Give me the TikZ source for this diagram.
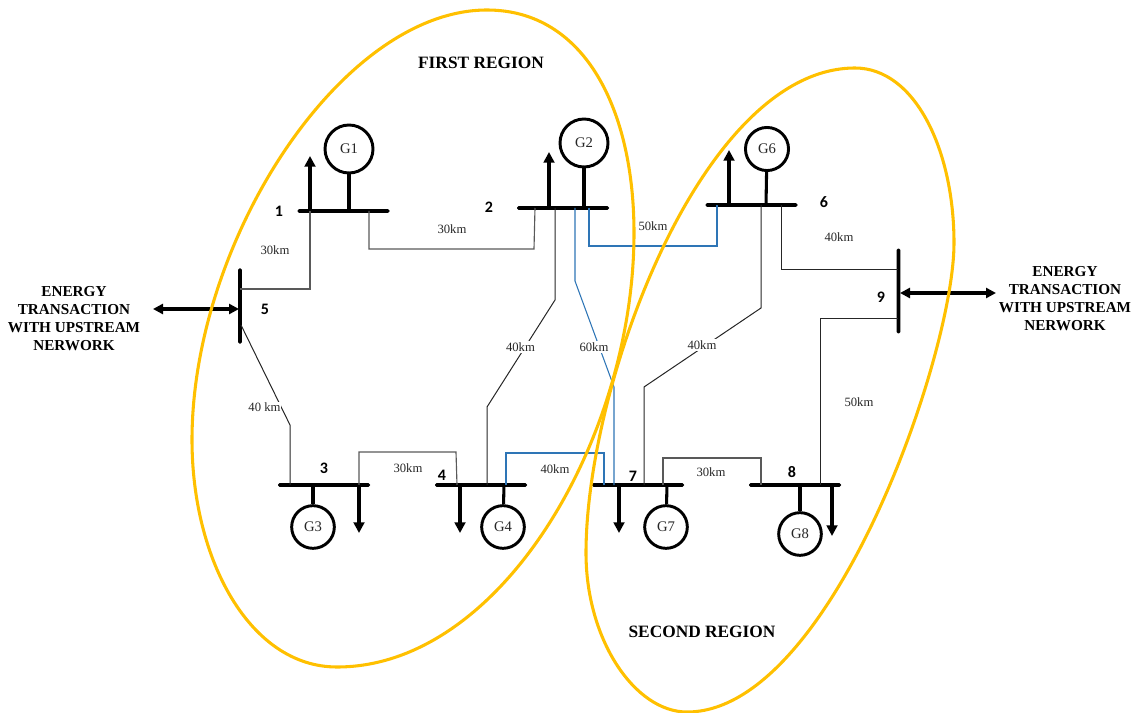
\documentclass[tikz,border=0pt]{standalone}
\usepackage{fontspec}
\setmainfont{Liberation Serif}
\newfontfamily\numfont{Carlito}
\usetikzlibrary{arrows.meta}
\definecolor{regionc}{HTML}{FFC000}
\definecolor{linkb}{HTML}{2E75B6}
\tikzset{
  x=0.75pt,y=-0.75pt,
  hbus/.style={fill=black,inner sep=0pt,minimum height=2.7pt,minimum width=69pt,rectangle,rounded corners=1pt},
  vbus/.style={fill=black,inner sep=0pt,minimum width=2.7pt,rectangle,rounded corners=1pt},
  gen/.style={circle,draw=black,line width=2.2pt,fill=white,inner sep=0pt,font=\fontsize{11}{12}\selectfont,text=black!85},
  stem/.style={line width=2.3pt},
  load/.style={line width=2.3pt,-{Triangle[length=8pt,width=8pt]}},
  trade/.style={line width=2.4pt,{Triangle[length=7.5pt,width=7.5pt]}-{Triangle[length=7.5pt,width=7.5pt]}},
  linkk/.style={line width=0.75pt,black!85},
  linkg/.style={line width=0.85pt,black!65},
  linkbl/.style={line width=0.8pt,linkb},
  region/.style={draw=regionc,line width=2.3pt},
  dist/.style={font=\fontsize{9.5}{11}\selectfont,text=black!85,inner sep=1.5pt},
  distw/.style={dist,fill=white},
  busno/.style={font=\numfont\bfseries\fontsize{12}{12}\selectfont,inner sep=0pt},
  title/.style={font=\bfseries\fontsize{13}{15}\selectfont,inner sep=0pt},
  trans/.style={font=\bfseries\fontsize{11.4}{13.5}\selectfont,align=center,inner sep=0pt}
}
\begin{document}
\begin{tikzpicture}
\useasboundingbox (0,0) rectangle (1132,713);
% buses
\node[hbus] (b1) at (343.5,211) {};
\node[hbus] (b2) at (563,208) {};
\node[hbus] (b6) at (751.5,205) {};
\node[vbus,minimum height=56.5pt] (b5) at (240,306) {};
\node[vbus,minimum height=63.5pt] (b9) at (898.5,291) {};
\node[hbus] (b3) at (324,485) {};
\node[hbus] (b4) at (481,485) {};
\node[hbus] (b7) at (638,485) {};
\node[hbus] (b8) at (795,485) {};
% attachment points on the buses
\coordinate (a1l) at (310,211);
\coordinate (a1g) at (349,211);
\coordinate (a1r) at (369,211);
\coordinate (a2a) at (535,208);
\coordinate (a2l) at (549,208);
\coordinate (a2b) at (555,208);
\coordinate (a2c) at (575,208);
\coordinate (a2g) at (584,208);
\coordinate (a2d) at (589,208);
\coordinate (a6a) at (717,205);
\coordinate (a6l) at (729,205);
\coordinate (a6b) at (761,205);
\coordinate (a6g) at (766,205);
\coordinate (a6c) at (781,205);
\coordinate (a5a) at (240,289);
\coordinate (a5b) at (239,309);
\coordinate (a5c) at (241,325);
\coordinate (a9a) at (898,269);
\coordinate (a9b) at (900,293);
\coordinate (a9c) at (898,318);
\coordinate (a3a) at (290,485);
\coordinate (a3g) at (313,485);
\coordinate (a3b) at (359,485);
\coordinate (a4a) at (457,485);
\coordinate (a4l) at (460,485);
\coordinate (a4b) at (487,485);
\coordinate (a4g) at (504,485);
\coordinate (a4c) at (506,485);
\coordinate (a7a) at (604,485);
\coordinate (a7b) at (614,485);
\coordinate (a7l) at (619,485);
\coordinate (a7c) at (644,485);
\coordinate (a7d) at (663,485);
\coordinate (a7g) at (667,485);
\coordinate (a8a) at (761,485);
\coordinate (a8g) at (800,485);
\coordinate (a8b) at (820,485);
\coordinate (a8l) at (832,487);
% free ends
\coordinate (e1) at (310,156);
\coordinate (e2) at (549,152);
\coordinate (e6) at (729,150);
\coordinate (e3) at (359,533);
\coordinate (e4) at (460,533);
\coordinate (e7) at (619,533);
\coordinate (e8) at (832,536);
\coordinate (tl) at (153,309);
\coordinate (tr) at (996,293);
% connectors
\draw[linkg] (a1l) |- (a5a);
\draw[linkg] (a1r) -- (369,249) -- (534,249) -- (a2a);
\draw[linkk] (a5c) -- (290,425) -- (a3a);
\draw[linkk] (a2b) -- (555,300) -- (487,407) -- (a4b);
\draw[linkbl] (a2c) -- (575,281) -- (614,387) -- (a7b);
\draw[linkbl] (a2d) -- (589,246) -- (717,246) -- (a6a);
\draw[linkbl] (a4c) -- (506,453) -- (604,453) -- (a7a);
\draw[linkk] (a6b) -- (761,308) -- (644,387) -- (a7c);
\draw[linkg] (a7d) -- (663,458) -- (761,458) -- (a8a);
\draw[linkg] (a3b) -- (359,452) -- (456,452) -- (a4a);
\draw[linkk] (a6c) |- (a9a);
\draw[linkk] (a9c) -| (a8b);
% generators
\node[gen,minimum size=36pt] (G1) at (349,149) {G1};
\node[gen,minimum size=36pt] (G2) at (584,143) {G2};
\node[gen,minimum size=32.3pt] (G6) at (767,149) {G6};
\node[gen,minimum size=32pt] (G3) at (313,527) {G3};
\node[gen,minimum size=32pt] (G4) at (503,527) {G4};
\node[gen,minimum size=32pt] (G7) at (666,527) {G7};
\node[gen,minimum size=32pt] (G8) at (800,534) {G8};
\draw[stem] (G1) -- (a1g);
\draw[stem] (G2) -- (a2g);
\draw[stem] (G6) -- (a6g);
\draw[stem] (G3) -- (a3g);
\draw[stem] (G4) -- (a4g);
\draw[stem] (G7) -- (a7g);
\draw[stem] (G8) -- (a8g);
% loads
\draw[load] (a1l) -- (e1);
\draw[load] (a2l) -- (e2);
\draw[load] (a6l) -- (e6);
\draw[load] (a3b) -- (e3);
\draw[load] (a4l) -- (e4);
\draw[load] (a7l) -- (e7);
\draw[load] (a8l) -- (e8);
% energy exchange
\draw[trade] (tl) -- (a5b);
\draw[trade] (a9b) -- (tr);
% distances
\node[dist] (d1) at (275,250) {30km};
\node[dist] (d2) at (452,229) {30km};
\node[dist] (d3) at (653,226) {50km};
\node[dist] (d4) at (839,237) {40km};
\node[distw] (d5) at (520.5,347) {40km};
\node[distw] (d6) at (594,347) {60km};
\node[distw] (d7) at (702,345) {40km};
\node[dist] (d8) at (859,402) {50km};
\node[distw,inner sep=0.5pt] (d9) at (264.5,407) {40 km};
\node[dist] (d10) at (408,468) {30km};
\node[dist] (d11) at (555,469) {40km};
\node[dist] (d12) at (711,472) {30km};
% regions
\draw[region] (487,10) .. controls (585,10) and (634,110) .. (634,233)
  .. controls (634,438) and (501,667) .. (337,667)
  .. controls (250,667) and (192,560) .. (192,440)
  .. controls (192,240) and (342,10) .. cycle;
\draw[region] (855,68) .. controls (915,68) and (954,150) .. (954,243)
  .. controls (954,356) and (830,712) .. (687,712)
  .. controls (635,712) and (586,640) .. (586,553)
  .. controls (586,384) and (702,68) .. cycle;
% bus numbers
\node[busno] (n1) at (279,211) {1};
\node[busno] (n2) at (489,207) {2};
\node[busno] (n6) at (824,202) {6};
\node[busno] (n5) at (265,309) {5};
\node[busno] (n9) at (881,297) {9};
\node[busno] (n3) at (324,468) {3};
\node[busno] (n4) at (442,475) {4};
\node[busno] (n7) at (633,476) {7};
\node[busno] (n8) at (792,472) {8};
% texts
\node[title] (t1) at (481,63) {FIRST REGION};
\node[title] (t2) at (702,632) {SECOND REGION};
\node[trans] (tx1) at (74,318.5) {ENERGY\\TRANSACTION\\WITH UPSTREAM\\NERWORK};
\node[trans] (tx2) at (1065,298.5) {ENERGY\\TRANSACTION\\WITH UPSTREAM\\NERWORK};
\end{tikzpicture}
\end{document}
